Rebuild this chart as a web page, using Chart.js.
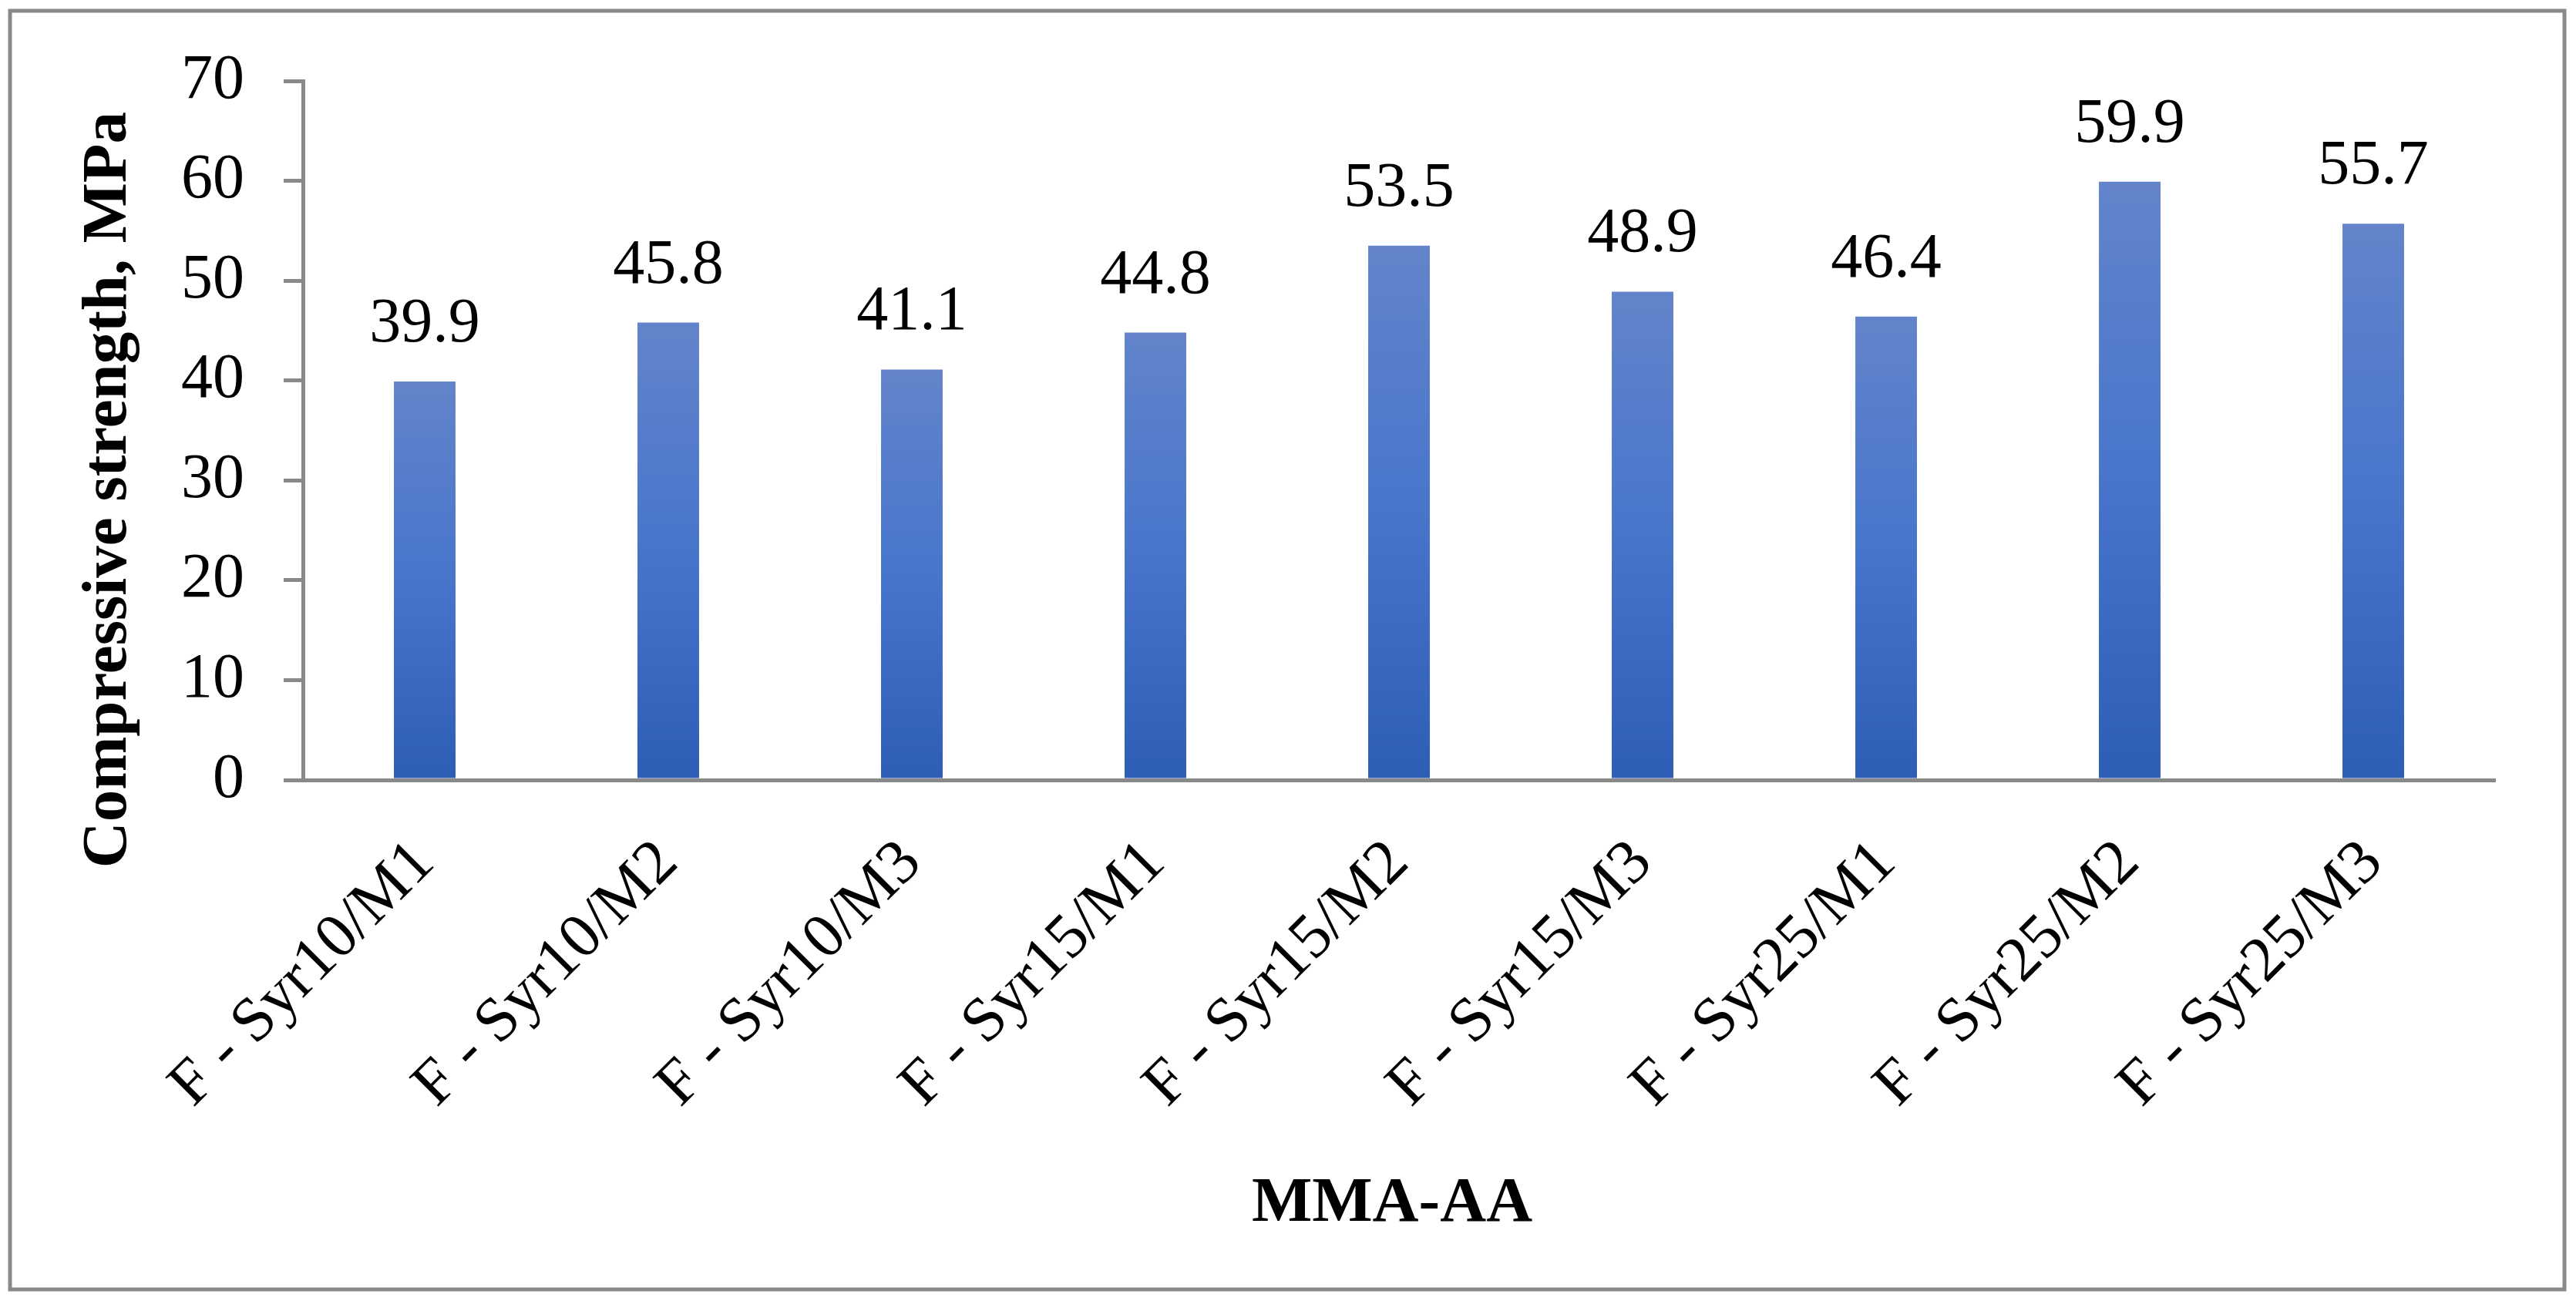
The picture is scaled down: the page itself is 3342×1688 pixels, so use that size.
<!DOCTYPE html>
<html>
<head>
<meta charset="utf-8">
<script src="https://cdn.jsdelivr.net/npm/chart.js@4"></script>
<style>
  html, body { margin: 0; padding: 0; background: #fff; }
  #wrap { width: 3342px; height: 1688px; }
</style>
</head>
<body>
<div id="wrap"><canvas id="strengthChart"></canvas></div>
<script>
// values
const categories = ['F - Syr10/M1', 'F - Syr10/M2', 'F - Syr10/M3',
                    'F - Syr15/M1', 'F - Syr15/M2', 'F - Syr15/M3',
                    'F - Syr25/M1', 'F - Syr25/M2', 'F - Syr25/M3'];
const strength = [39.9, 45.8, 41.1, 44.8, 53.5, 48.9, 46.4, 59.9, 55.7];
const yTicks = [0, 10, 20, 30, 40, 50, 60, 70];

const FONT = '"Liberation Serif", "Times New Roman", serif';
const GREY = '#898989';

// frame around the whole picture plus the two axis titles
const framePlugin = {
    id: 'frame',
    beforeDraw(chart) {
        const c = chart.ctx;
        c.save();
        c.fillStyle = '#fff';
        c.fillRect(0, 0, chart.width, chart.height);
        c.strokeStyle = GREY;
        c.lineWidth = 5;
        c.strokeRect(13, 14, chart.width - 28, chart.height - 29);
        c.restore();
    },
    afterDraw(chart) {
        const c = chart.ctx;
        const area = chart.chartArea;
        c.save();
        c.fillStyle = '#000';
        c.font = 'bold 83px ' + FONT;
        c.textAlign = 'center';
        c.textBaseline = 'alphabetic';
        c.fillText('MMA-AA', (area.left + area.right) / 2 - 9, area.bottom + 572);

        c.translate(163, area.top + (area.bottom - area.top) * 0.585);
        c.rotate(-Math.PI / 2);
        c.fillText('Compressive strength, MPa', 0, 0);
        c.restore();
    }
};

// value above each bar
const valueLabels = {
    id: 'valueLabels',
    afterDatasetsDraw(chart) {
        const c = chart.ctx;
        c.save();
        c.fillStyle = '#000';
        c.font = '82px ' + FONT;
        c.textAlign = 'center';
        c.textBaseline = 'alphabetic';
        chart.getDatasetMeta(0).data.forEach((bar, i) => {
            c.fillText(strength[i].toFixed(1), bar.x, bar.y - 52);
        });
        c.restore();
    }
};

function barFill(ctx) {
    const chart = ctx.chart;
    if (!chart.chartArea) return '#4a78cc';
    const y = chart.scales.y;
    const top = y.getPixelForValue(ctx.raw);
    const bottom = y.getPixelForValue(0);
    const g = chart.ctx.createLinearGradient(0, top, 0, bottom);
    g.addColorStop(0, '#6384ca');
    g.addColorStop(0.5, '#4775cc');
    g.addColorStop(1, '#2e5db6');
    return g;
}

const ctx = document.getElementById('strengthChart').getContext('2d');
const chart = new Chart(ctx, {
    type: 'bar',
    data: {
        labels: categories,
        datasets: [{
            label: 'Compressive strength, MPa',
            data: strength,
            backgroundColor: barFill,
            borderWidth: 0,
            categoryPercentage: 1,
            barPercentage: 0.253
        }]
    },
    plugins: [framePlugin, valueLabels],
    options: {
        responsive: true,
        maintainAspectRatio: false,
        devicePixelRatio: 1,
        animation: false,
        layout: { padding: { left: 0, right: 105, top: 105, bottom: 0 } },
        plugins: {
            legend: { display: false },
            tooltip: { enabled: false }
        },
        scales: {
            x: {
                grid: { display: false },
                border: { display: true, color: GREY, width: 5 },
                ticks: {
                    color: '#000',
                    font: { family: FONT, size: 82 },
                    autoSkip: false,
                    maxRotation: 45,
                    minRotation: 45,
                    padding: 52
                },
                afterFit(scale) { scale.height = 676; }
            },
            y: {
                min: 0,
                max: 70,
                afterBuildTicks(scale) {
                    scale.ticks = yTicks.map(v => ({ value: v }));
                },
                grid: {
                    drawOnChartArea: false,
                    drawTicks: true,
                    tickLength: 25,
                    color: GREY,
                    lineWidth: 5
                },
                border: { display: true, color: GREY, width: 5 },
                ticks: {
                    color: '#000',
                    font: { family: FONT, size: 82 },
                    padding: 51
                },
                afterFit(scale) { scale.width = 393; }
            }
        }
    }
});
</script>
</body>
</html>
